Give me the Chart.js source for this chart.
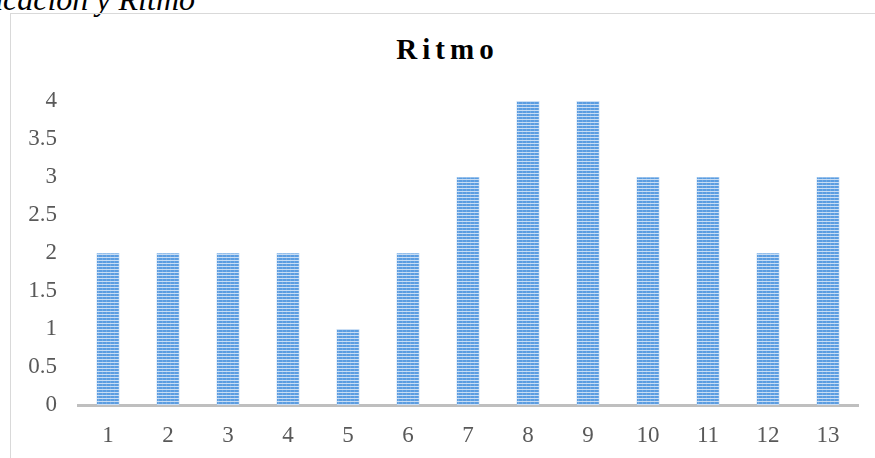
<!DOCTYPE html>
<html>
<head>
<meta charset="utf-8">
<script src="https://cdn.jsdelivr.net/npm/chart.js@4"></script>
<style>
    html, body { margin: 0; padding: 0; background: #fff; overflow: hidden; }
    #page { position: relative; width: 875px; height: 458px; overflow: hidden; }
    #caption {
        position: absolute; right: 680px; top: -17px; white-space: nowrap;
        font: italic 32px/32px 'Liberation Serif', 'Times New Roman', serif; color: #000;
    }
    #box {
        position: absolute; left: 10px; top: 13px; width: 900px; height: 460px;
        border: 1.5px solid #d9d9d9; box-sizing: border-box;
    }
    #title {
        position: absolute; left: 10px; width: 870px; top: 35px; text-align: center;
        padding-left: 5px; box-sizing: border-box;
        font: bold 29px/29px 'Liberation Serif', 'Times New Roman', serif;
        letter-spacing: 5px; color: #000;
    }
    #chart-wrap { position: absolute; left: 0; top: 0; width: 875px; height: 458px; }
</style>
</head>
<body>
<div id="page">
    <div id="caption">Educación y Ritmo</div>
    <div id="box"></div>
    <div id="title">Ritmo</div>
    <div id="chart-wrap"><canvas id="ritmo-chart"></canvas></div>
</div>
<script>
const categories = ['1', '2', '3', '4', '5', '6', '7', '8', '9', '10', '11', '12', '13'];
const ritmoValues = [2, 2, 2, 2, 1, 2, 3, 4, 4, 3, 3, 2, 3];
const yTicks = [0, 0.5, 1, 1.5, 2, 2.5, 3, 3.5, 4];

// horizontal stripes, like the Office "narrow horizontal" fill
function stripePattern(ctx) {
    const tile = document.createElement('canvas');
    tile.width = 4;
    tile.height = 3;
    const t = tile.getContext('2d');
    t.fillStyle = '#5b9de1';
    t.fillRect(0, 0, 4, 3);
    t.fillStyle = '#c8ddf4';
    t.fillRect(0, 2, 4, 1);
    t.fillStyle = 'rgba(255,255,255,0.15)';
    t.fillRect(2, 0, 1, 2);
    return ctx.createPattern(tile, 'repeat');
}

const canvas = document.getElementById('ritmo-chart');
const ctx = canvas.getContext('2d');
const tickFont = { family: "'Liberation Serif', 'Times New Roman', serif", size: 23 };

new Chart(ctx, {
    type: 'bar',
    data: {
        labels: categories,
        datasets: [{
            label: 'Ritmo',
            data: ritmoValues,
            backgroundColor: stripePattern(ctx),
            borderColor: '#9cc4ec',
            borderWidth: 0.5,
            barPercentage: 0.383,
            categoryPercentage: 1,
        }],
    },
    options: {
        responsive: true,
        maintainAspectRatio: false,
        animation: false,
        layout: { padding: { left: 0, right: 17, top: 101, bottom: 13 } },
        plugins: {
            legend: { display: false },
            title: { display: false },
            tooltip: { enabled: false },
        },
        scales: {
            x: {
                grid: { display: false, drawTicks: false },
                border: { display: true, color: '#bfbfbf', width: 3 },
                ticks: { color: '#595959', font: tickFont, padding: 17, maxRotation: 0 },
                afterFit: (scale) => { scale.height = 40; },
            },
            y: {
                min: 0,
                max: 4,
                grid: { display: false, drawTicks: false },
                border: { display: false },
                afterBuildTicks: (scale) => { scale.ticks = yTicks.map((v) => ({ value: v })); },
                ticks: { color: '#595959', font: tickFont, padding: 21, callback: (v) => String(v) },
                afterFit: (scale) => { scale.width = 78; },
            },
        },
    },
});
</script>
</body>
</html>
